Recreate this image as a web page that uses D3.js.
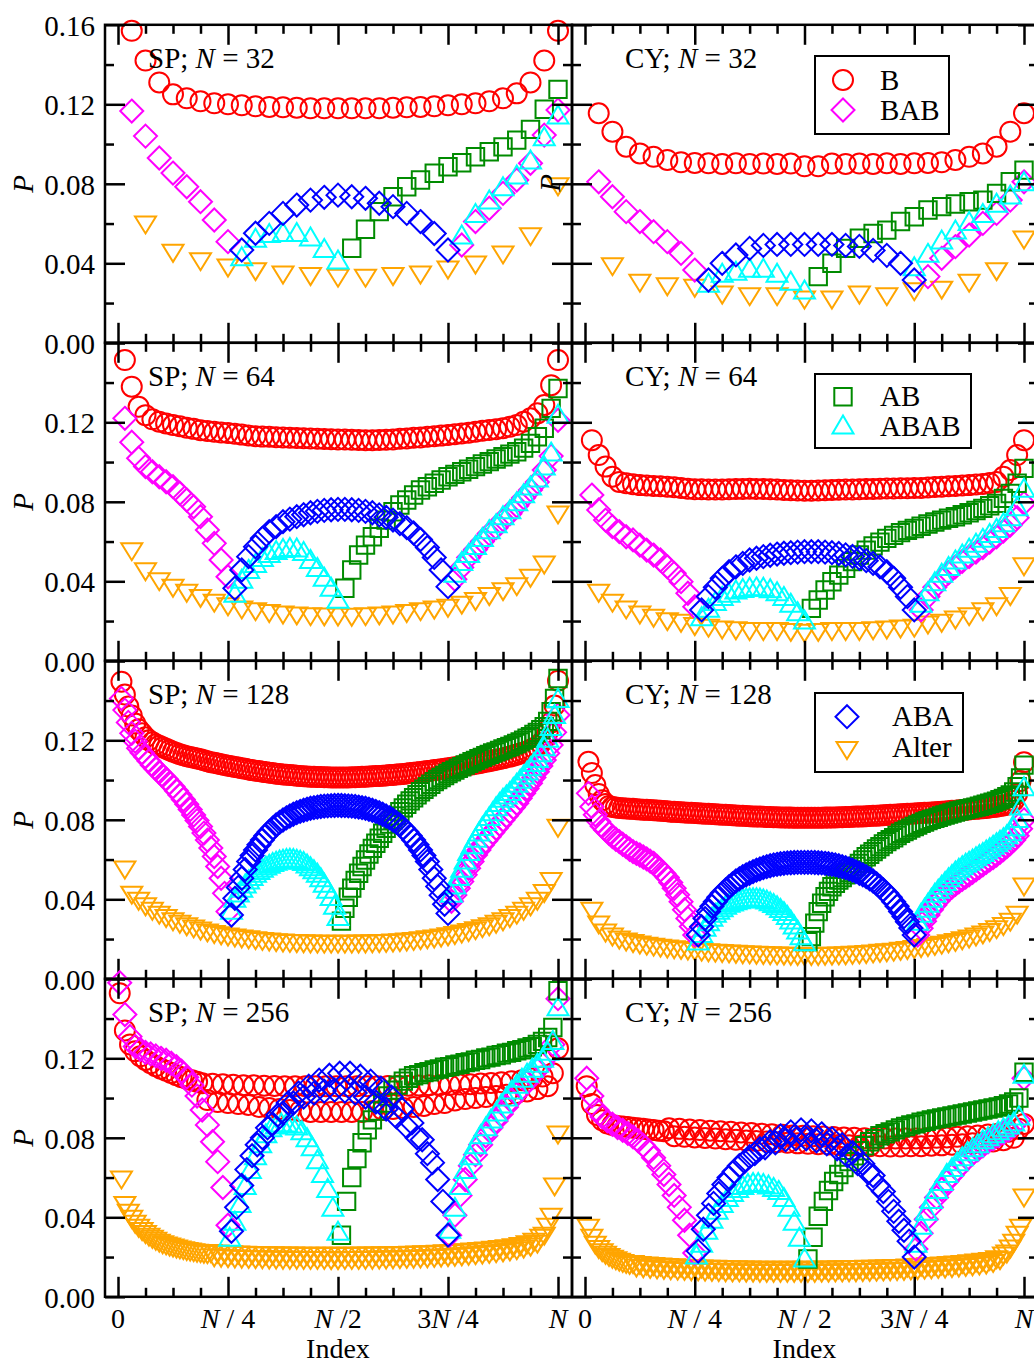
<!DOCTYPE html>
<html>
<head>
<meta charset="utf-8">
<script src="https://cdn.jsdelivr.net/npm/d3@7"></script>
<style>
  body { margin: 0; background: #fff; }
  text { font-family: "Liberation Serif", "Times New Roman", serif; font-size: 29px; fill: #000; white-space: pre; }
</style>
</head>
<body>
<div id="chart"></div>
<script>
// ---- index grids: [first index, step] for each set ----
const grid32  = {B: [1, 1], Alter: [2, 2], BABL: [1, 1], BABR: [25, 1], AB: [17, 1], ABABL: [9, 1], ABABR: [25, 1], ABA: [9, 1]};
const grid64  = {B: [1, 1], Alter: [2, 2], BABL: [1, 1], BABR: [49, 1], AB: [33, 1], ABABL: [17, 1], ABABR: [49, 1], ABA: [17, 1]};
const grid128 = {B: [1, 1], Alter: [2, 2], BABL: [1, 1], BABR: [97, 1], AB: [65, 1], ABABL: [33, 1], ABABR: [97, 1], ABA: [33, 1]};
const grid256 = {B: [1, 3], Alter: [2, 2], BABL: [1, 3], BABR: [193, 3], AB: [130, 3], ABABL: [65, 3], ABABR: [193, 3], ABA: [66, 3]};

// ---- SP, N = 32 ----
const sp32B = [.157,.142,.131,.125,.123,.1215,.1205,.12,.1195,.119,.1187,.1185,.1183,.118,.118,.118,.118,.118,.118,.1183,.1185,.1187,.119,.1195,.12,.1205,.1215,.123,.1255,.131,.142,.157];
const sp32BABL = [.1166,.104,.093,.0854,.0785,.071,.0618,.0509];
const sp32BABR = [.0492,.061,.0677,.0752,.0819,.0903,.1045,.1171];
const sp32ABA = [.0467,.0551,.0601,.0651,.0693,.0718,.0732,.0743,.0735,.0727,.0702,.0685,.0651,.061,.055,.0467];
const sp32ABABL = [.0433,.0526,.055,.0555,.0555,.0532,.0475,.0417];
const sp32ABABR = [.0542,.0651,.0718,.0785,.0844,.092,.1037,.1146];
const sp32AB = [.0476,.0571,.066,.0735,.0785,.0819,.0853,.0886,.0906,.0936,.0961,.0986,.102,.1074,.1175,.1275];
const sp32Alter = [.0593,.045,.0408,.0376,.0358,.0341,.0333,.0325,.0325,.0333,.0341,.0366,.0391,.0442,.0534,.0785];

// ---- CY, N = 32 ----
const cy32B = [.1155,.1062,.0987,.0953,.0936,.092,.0908,.0905,.0903,.09,.0903,.09,.0902,.09,.0902,.0888,.0888,.0902,.09,.0902,.09,.0903,.09,.0903,.0905,.0908,.092,.0936,.0953,.0987,.1062,.1155];
const cy32BABL = [.081,.0735,.066,.061,.0559,.0509,.045,.0366];
const cy32BABR = [.0333,.0425,.0484,.0542,.0601,.0651,.0718,.081];
const cy32ABA = [.0316,.04,.0442,.0475,.049,.0495,.0495,.0495,.0495,.0495,.049,.0485,.0465,.044,.04,.0316];
const cy32ABABL = [.03,.035,.036,.0375,.0375,.035,.031,.0266];
const cy32ABABR = [.0383,.045,.0517,.0567,.061,.0651,.0702,.0744,.081]; // starts at index 24
const cy32AB = [.0333,.04,.0475,.0526,.055,.0567,.061,.0634,.0668,.0685,.0698,.071,.0718,.0752,.081,.0869];
const cy32Alter = [.0383,.03,.0282,.0274,.024,.0232,.0232,.0215,.0215,.024,.0232,.0257,.0265,.03,.0358,.0517];

// ---- SP, N = 64 ----
const sp64B = [.1513,.1379,.1278,.1236,.1215,.1203,.1194,.1186,.118,.1173,.1167,.116,.1156,.1152,.1149,.1146,.1142,.1138,.1134,.113,.1128,.1127,.1125,.1124,.1122,.1121,.112,.1119,.1117,.1116,.1115,.1114,.1113,.1112,.1111,.111,.111,.1111,.1112,.1114,.1117,.1119,.1122,.1124,.1127,.113,.1133,.1136,.114,.1144,.1148,.1153,.1157,.1161,.1165,.117,.1178,.1186,.1203,.122,.1245,.1287,.1387,.1513];
const sp64BABL = [.122,.11,.1019,.0977,.0951,.0926,.0901,.0876,.0843,.0809,.0775,.0725,.0658,.0591,.0507,.0423];
const sp64BABR = [.041,.047,.052,.056,.06,.064,.067,.071,.074,.078,.082,.086,.09,.096,.103,.121];
const sp64ABA = [.0365,.0457,.0524,.0574,.0616,.065,.0675,.07,.0713,.0725,.0735,.0745,.0752,.0757,.076,.0762,.0762,.076,.0757,.0752,.0745,.0734,.0722,.0708,.069,.067,.0643,.061,.057,.052,.0457,.0373];
const sp64ABABL = [.034,.041,.046,.049,.052,.054,.0555,.0565,.057,.0568,.055,.051,.047,.042,.037,.031];
const sp64ABABR = [.044,.05,.054,.058,.062,.066,.069,.073,.076,.08,.084,.088,.092,.098,.105,.124];
const sp64AB = [.0365,.0457,.0532,.0582,.0624,.0667,.0708,.075,.0784,.0809,.0834,.0859,.0876,.0893,.091,.0926,.0938,.0951,.0964,.0977,.099,.1002,.1015,.1027,.104,.1052,.107,.1094,.1127,.117,.127,.137];
const sp64Alter = [.0549,.0448,.0398,.0365,.034,.0314,.029,.0272,.0256,.0247,.0238,.023,.0226,.0222,.0221,.022,.0219,.0222,.0226,.023,.0238,.0247,.0255,.0264,.028,.0298,.0323,.0348,.0373,.0415,.0482,.0734];

// ---- CY, N = 64 ----
const cy64B = [.111,.1035,.0977,.0926,.09,.0893,.0888,.0884,.0882,.088,.0878,.0876,.0873,.087,.0866,.0863,.0863,.0862,.0862,.0862,.0863,.0864,.0865,.0866,.0865,.0864,.0863,.0862,.086,.0858,.0857,.0856,.0856,.0857,.0858,.086,.0861,.0862,.0862,.0863,.0864,.0865,.0866,.0867,.0867,.0868,.0868,.0869,.087,.0872,.0874,.0876,.0878,.088,.0882,.0884,.0887,.089,.0895,.09,.0926,.096,.1035,.111];
const cy64BABL = [.0834,.0759,.0708,.0675,.065,.0624,.0608,.0582,.0557,.0532,.0507,.0473,.044,.0398,.034,.0272];
const cy64BABR = [.0256,.0323,.037,.041,.0443,.0473,.05,.0524,.0547,.057,.0597,.0624,.0653,.0683,.072,.0792];
const cy64ABA = [.0256,.0323,.037,.0415,.0448,.0473,.049,.0507,.0516,.0524,.0531,.0537,.0541,.0544,.0547,.0549,.0549,.0549,.0547,.0544,.054,.0533,.0525,.0516,.0504,.049,.0473,.0448,.0415,.037,.0323,.0256];
const cy64ABABL = [.0222,.0264,.0298,.0323,.034,.0356,.0364,.037,.0372,.037,.0362,.0348,.0323,.029,.0247,.0205];
const cy64ABABR = [.029,.0348,.0398,.044,.0475,.0507,.0537,.0566,.0591,.0616,.0641,.0666,.0695,.0725,.0775,.0868];
const cy64AB = [.0264,.0306,.0356,.0398,.0431,.0465,.0499,.0532,.0557,.0578,.0597,.0616,.0631,.0645,.0656,.0666,.0677,.0688,.0698,.0708,.0717,.0725,.0735,.0745,.0756,.0767,.078,.0792,.0817,.0842,.0893,.0968];
const cy64Alter = [.034,.029,.0256,.023,.0214,.0197,.0189,.0172,.0164,.0155,.0151,.0147,.0147,.0147,.0143,.0138,.0143,.0147,.0147,.0147,.0151,.0155,.016,.0164,.018,.0189,.0205,.0222,.0247,.0272,.0323,.0473];

// ---- SP, N = 128 ----
const sp128B = [.1495,.143,.137,.1325,.1285,.1255,.1235,.1215,.12,.119,
  .118,.1172,.1165,.1157,.115,.1143,.1136,.113,.1125,.112,
  .1116,.1112,.1108,.1105,.11,.1095,.109,.1087,.1083,.108,
  .1076,.1072,.1069,.1066,.1063,.106,.1057,.1053,.105,.1047,
  .1045,.1042,.104,.1037,.1035,.1032,.103,.1028,.1027,.1025,
  .1024,.1022,.102,.1019,.1018,.1017,.1016,.1015,.1015,.1014,
  .1014,.1013,.1013,.1013,.1013,.1013,.1013,.1014,.1014,.1015,
  .1016,.1017,.1018,.1019,.102,.1021,.1022,.1023,.1025,.1026,
  .1028,.1029,.1031,.1033,.1035,.1037,.1039,.1041,.1043,.1045,
  .1047,.105,.1052,.1054,.1057,.1059,.1062,.1064,.1067,.107,
  .1073,.1076,.1079,.1082,.1085,.1088,.1092,.1095,.1099,.1102,
  .1106,.111,.1114,.1118,.1123,.1128,.1133,.1139,.1145,.1152,
  .116,.117,.1185,.1205,.124,.129,.1375,.15];
const sp128BABL = [.141,.1352,.129,.1235,.1195,.116,.1137,.1117,.1096,.1075,
  .1057,.1039,.1022,.1005,.0986,.0967,.0946,.0925,.0902,.0878,
  .0852,.0824,.0796,.0766,.0733,.0698,.0658,.0615,.0565,.0506,.043,.0338];
const sp128BABR = [.039,.0422,.0456,.0489,.0523,.0556,.059,.0623,.0648,.0673,
  .0694,.0715,.0736,.0757,.0778,.0799,.082,.0841,.0862,.0883,
  .0908,.0933,.0958,.0984,.1013,.1042,.1071,.1101,.1135,.1176,.124,.1327];
const sp128ABA = [.0321,.0405,.046,.0506,.055,.059,.062,.0648,.0674,.0698,
  .072,.074,.0758,.0774,.0787,.0799,.081,.0819,.0828,.0836,
  .0842,.0848,.0853,.0858,.0861,.0864,.0867,.0869,.087,.0871,
  .0872,.0873,.0872,.0871,.087,.0869,.0867,.0864,.0861,.0858,
  .0853,.0848,.0842,.0836,.0828,.0819,.081,.0799,.0787,.0774,
  .0758,.074,.072,.0698,.0674,.0648,.062,.059,.055,.0506,
  .0465,.0421,.0375,.0329];
const sp128ABABL = [.0345,.0405,.0432,.0455,.0477,.0497,.0515,.0531,.0545,.0556,
  .0567,.0576,.0585,.0592,.0598,.0602,.0605,.0606,.0605,.0602,
  .0597,.059,.0578,.0564,.0549,.0531,.0508,.0481,.045,.0414,.037,.0313];
const sp128ABABR = [.043,.0472,.0515,.0556,.0598,.064,.0675,.0707,.0738,.0766,
  .0791,.0816,.0841,.0866,.0887,.0908,.0925,.0942,.0963,.0984,
  .1004,.1025,.1046,.1067,.1088,.1109,.1137,.1168,.121,.1269,.133,.141];
const sp128AB = [.029,.0355,.041,.0456,.0495,.0531,.0565,.0598,.0628,.0656,
  .0682,.0707,.0732,.0757,.0778,.0799,.082,.0841,.086,.0878,
  .0895,.0911,.0926,.0941,.0954,.0966,.0979,.0992,.1003,.1013,
  .1023,.1033,.1042,.105,.1059,.1067,.1076,.1084,.1092,.1099,
  .1107,.1114,.1122,.1129,.1136,.1142,.1149,.1156,.1163,.1169,
  .1177,.1184,.1192,.1201,.121,.1218,.1229,.124,.1253,.1268,
  .1295,.1344,.141,.1511];
const sp128Alter = [.0547,.0421,.039,.0362,.034,.032,.0303,.0287,.0274,.0262,.0251,.024,.0231,.0223,.0216,.021,.0205,.02,.0196,.0192,.0188,.0185,.0182,.018,.0178,.0177,.0176,.0175,.0174,.0174,.0174,.0174,.0174,.0174,.0175,.0175,.0176,.0177,.0178,.018,.0182,.0185,.0188,.0192,.0196,.02,.0205,.0211,.0218,.0225,.0233,.0242,.0252,.0262,.0274,.0287,.0303,.032,.034,.0362,.039,.0429,.049,.0757];

// ---- CY, N = 128 ----
const cy128B = [.1092,.1035,.0975,.093,.0898,.088,.087,.0865,.0862,.086,
  .0858,.0857,.0856,.0855,.0853,.0852,.0851,.085,.0849,.0848,
  .0847,.0846,.0844,.0843,.0841,.084,.0839,.0838,.0837,.0836,
  .0835,.0834,.0833,.0832,.0831,.083,.0829,.0828,.0827,.0826,
  .0825,.0824,.0823,.0822,.0821,.082,.0819,.0818,.0817,.0817,
  .0816,.0815,.0814,.0814,.0813,.0813,.0812,.0812,.0811,.0811,
  .081,.081,.081,.081,.081,.081,.081,.081,.081,.0811,
  .0811,.0812,.0812,.0813,.0813,.0814,.0814,.0815,.0816,.0817,
  .0817,.0818,.0819,.082,.0821,.0822,.0823,.0824,.0825,.0826,
  .0827,.0828,.0829,.083,.0831,.0832,.0833,.0834,.0835,.0836,
  .0837,.0838,.0839,.084,.0842,.0843,.0845,.0846,.0848,.0849,
  .0851,.0852,.0854,.0855,.0857,.0858,.086,.0862,.0864,.0866,
  .0869,.0872,.0876,.088,.0895,.093,.0995,.109];
const cy128BABL = [.0933,.0866,.0825,.0791,.0768,.0749,.0732,.0715,.0702,.069,
  .0677,.0665,.0652,.064,.0631,.0623,.0613,.0603,.0592,.0581,
  .0565,.0548,.053,.051,.0484,.0455,.0423,.0388,.0348,.0304,.0263,.022];
const cy128BABR = [.022,.0254,.029,.0321,.0347,.0371,.0393,.0413,.043,.0447,
  .0461,.0475,.0488,.0501,.0512,.0523,.0536,.0548,.0561,.0573,
  .0586,.0598,.061,.0623,.0636,.065,.0665,.068,.0698,.072,.0755,.08];
const cy128ABA = [.022,.0262,.0303,.0338,.0365,.0388,.041,.043,.0447,.0463,
  .0478,.0492,.0503,.0514,.0523,.0531,.0539,.0547,.0553,.0559,
  .0564,.0569,.0573,.0576,.0579,.0581,.0583,.0584,.0585,.0586,
  .0586,.0586,.0586,.0586,.0585,.0584,.0583,.0581,.0579,.0576,
  .0573,.0569,.0564,.0559,.0553,.0547,.0539,.0531,.0523,.0514,
  .0503,.0492,.0478,.0463,.0447,.043,.041,.0388,.0365,.0338,
  .0313,.0287,.0255,.022];
const cy128ABABL = [.019,.0228,.026,.0287,.031,.033,.0345,.0358,.037,.038,
  .0387,.0393,.0398,.0403,.0406,.0408,.0408,.0408,.0406,.0402,
  .0396,.0388,.0379,.0368,.0354,.0338,.0318,.0296,.0271,.0245,.0217,.0187];
const cy128ABABR = [.029,.033,.0355,.038,.0405,.043,.0451,.0471,.049,.0508,
  .0525,.0542,.0556,.0569,.0581,.0592,.0603,.0614,.0625,.0636,
  .0648,.066,.0672,.0685,.0697,.071,.0725,.074,.0765,.0807,.087,.0966];
const cy128AB = [.0187,.0212,.028,.0338,.038,.0413,.044,.0463,.0481,.0497,
  .051,.0523,.0535,.0548,.0565,.0581,.0598,.0614,.0627,.064,
  .0653,.0665,.0678,.069,.07,.071,.0721,.0732,.0741,.0749,
  .0758,.0766,.0774,.0782,.0789,.0796,.0802,.0807,.0813,.0819,
  .0824,.0829,.0834,.0839,.0844,.0848,.0852,.0856,.086,.0864,
  .0868,.0873,.0878,.0883,.0888,.0894,.0901,.0908,.0916,.0925,
  .094,.0966,.101,.1075];
const cy128Alter = [.034,.0271,.023,.021,.0195,.0185,.0177,.017,.0164,.0159,.0154,.015,.0146,.0143,.014,.0137,.0134,.0131,.0129,.0127,.0125,.0123,.0121,.012,.0118,.0117,.0116,.0115,.0114,.0113,.0112,.0112,.0112,.0112,.0113,.0114,.0115,.0116,.0118,.012,.0122,.0125,.0128,.0131,.0134,.0138,.0142,.0147,.0152,.0157,.0163,.0169,.0176,.0183,.0191,.02,.021,.0221,.0233,.0247,.0263,.0285,.032,.0462];

// ---- SP, N = 256 (sampled) ----
const sp256B = [.1527,.134,.127,.1235,.121,.1192,.1175,.116,.1148,.1137,.1126,.1115,.1105,.1097,.109,.1082,
  .1075,.099,.1072,.098,.107,.0975,.1067,.097,.1065,.0965,
  .1064,.0955,.1062,.095,.1061,.0945,.106,.094,.106,.0935,
  .106,.093,.106,.093,.106,.093,.106,.093,.106,.093,
  .106,.093,.106,.0935,.106,.094,.1061,.0945,.1062,.095,
  .1062,.0955,.1063,.096,.1065,.097,.1065,.0975,.1066,.0988,
  .1068,.0995,.107,.1,.1073,.1005,.1076,.101,.108,.1017,
  .1085,.1025,.109,.1033,.1098,.1045,.1108,.106,.1125,.125];
const sp256BABL = [.158,.142,.131,.126,.1245,.123,.1222,.1212,.12,.119,.1175,.1158,.1135,.1105,.1065,.101,.094,.0865,.078,.068,.055,.036];
const sp256BABR = [.031,.041,.051,.059,.066,.0715,.0765,.081,.085,.0885,.092,.0955,.099,.102,.105,.108,.111,.114,.117,.121,.127,.15];
const sp256ABA = [.033,.045,.056,.064,.071,.0765,.08,.085,.087,.0915,.0925,.0975,.0975,.1025,.1005,.106,.1025,.109,.1035,.1115,.104,.1125,.1035,.1125,.1025,.111,.1005,.1085,.098,.105,.0945,.1005,.0905,.0945,.0855,.0875,.08,.079,.072,.0675,.059,.048,.031];
const sp256ABABL = [.03,.038,.047,.056,.064,.071,.077,.082,.085,.0865,.0875,.0875,.087,.086,.0835,.08,.0755,.069,.062,.0545,.045,.033];
const sp256ABABR = [.034,.045,.056,.064,.071,.0765,.0815,.0855,.0895,.093,.097,.1005,.104,.107,.11,.1125,.115,.1175,.12,.1235,.129,.146];
const sp256AB = [.031,.048,.06,.0695,.0775,.084,.089,.0935,.0975,.101,.104,.1065,.1085,.11,.1112,.1118,.1128,.1132,.1142,.1146,.1155,.1158,.1166,.117,.1178,.1182,.119,.1194,.1202,.1206,.1214,.1218,.1226,.123,.1238,.1243,.1252,.1258,.127,.1285,.1305,.1355,.154];
const sp256Alter = [.0588,.046,.042,.039,.0365,.0345,.0328,.0313,.03,.0289,.0279,.027,.0262,.0256,.025,.0245,.024,.0236,.0232,.0228,.0225,.0222,.0219,.0217,.0214,.0212,
  .0218,.0196,.0215,.0194,.0213,.0192,.0212,.019,.021,.0189,
  .0209,.0188,.0208,.0187,.0207,.0186,.0206,.0185,.0206,.0185,
  .0205,.0184,.0205,.0184,.0205,.0184,.0204,.0183,.0204,.0183,
  .0204,.0183,.0204,.0183,.0204,.0182,.0204,.0182,.0204,.0183,
  .0204,.0183,.0204,.0183,.0205,.0184,.0205,.0184,.0205,.0185,
  .0206,.0185,.0206,.0186,.0207,.0187,.0208,.0188,.0209,.0189,
  .021,.019,.0211,.0191,.0212,.0193,.0214,.0195,.0216,.0197,
  .0218,.0199,.022,.0201,.0222,.0204,.0225,.0207,.0228,.021,
  .0231,.0213,.0234,.0217,.0238,.0221,.0242,.0226,.0247,
  .0232,.0253,.024,.0262,.025,.0275,.0265,.0295,.0305,.035,.04,.0553,.0814];

// ---- CY, N = 256 (sampled) ----
const cy256B = [.106,.097,.0915,.0888,.0872,.0865,.086,.0857,.0854,.0851,.0848,.0845,.0842,.0839,.0836,.0833,
  .0848,.0808,.0845,.0805,.0842,.0802,.0839,.0799,.0836,.0796,
  .0833,.0793,.083,.079,.0827,.0787,.0824,.0784,.0821,.0781,
  .0818,.0778,.0815,.0775,.0812,.0772,.081,.077,.0808,.0768,
  .0806,.0766,.0804,.0764,.0802,.0762,.08,.076,.0798,.0758,
  .0797,.0757,.0796,.0756,.0796,.0756,.0796,.0757,.0797,.0758,
  .0798,.076,.08,.0762,.0802,.0765,.0805,.0768,.0808,.0772,
  .0812,.0776,.0816,.0781,.0821,.0788,.083,.08,.0845,.087];
const cy256BABL = [.11,.101,.094,.0905,.0885,.0868,.0852,.0838,.0822,.0805,.0785,.0762,.0735,.07,.066,.0615,.0565,.051,.045,.0385,.031,.022];
const cy256BABR = [.024,.032,.039,.045,.05,.054,.058,.061,.064,.067,.0695,.072,.074,.076,.078,.0795,.081,.0825,.084,.086,.089,.11];
const cy256ABA = [.023,.034,.041,.047,.052,.0565,.06,.063,.066,.068,.0705,.072,.0745,.075,.078,.0775,.081,.079,.083,.0795,.084,.0795,.0835,.0785,.082,.077,.0795,.0745,.0765,.071,.0725,.067,.067,.0625,.061,.056,.053,.048,.043,.038,.0335,.028,.02];
const cy256ABABL = [.021,.027,.0335,.039,.0435,.047,.05,.0525,.0545,.056,.057,.0575,.0575,.057,.0562,.055,.0535,.05,.045,.038,.03,.0195];
const cy256ABABR = [.027,.036,.043,.049,.054,.058,.062,.065,.068,.0705,.073,.075,.077,.079,.0805,.082,.0835,.085,.0865,.088,.091,.112];
const cy256AB = [.019,.03,.0405,.048,.0535,.058,.0615,.065,.068,.071,.0735,.076,.078,.0795,.081,.082,.083,.084,.085,.0857,.0865,.087,.0878,.0883,.089,.0895,.09,.0905,.091,.0915,.092,.0925,.093,.0935,.094,.0945,.095,.0955,.0962,.097,.098,.1,.113];
const cy256Alter = [.0345,.0294,.026,.0238,.0222,.0209,.0198,.0189,.0181,.0174,.0168,.0163,.0158,
  .0162,.0145,.0158,.0141,.0155,.0138,.0152,.0135,.015,.0133,
  .0148,.0131,.0146,.0129,.0144,.0128,.0143,.0126,.0141,.0125,
  .014,.0124,.0139,.0123,.0138,.0122,.0137,.0121,.0136,.012,
  .0136,.012,.0135,.0119,.0135,.0119,.0134,.0118,.0134,.0118,
  .0134,.0118,.0134,.0118,.0134,.0118,.0134,.0118,.0134,.0118,
  .0134,.0118,.0134,.0118,.0134,.0119,.0135,.0119,.0135,.012,
  .0136,.012,.0136,.0121,.0137,.0121,.0137,.0122,.0138,.0123,
  .0139,.0124,.014,.0125,.0141,.0126,.0142,.0127,.0143,.0128,
  .0145,.013,.0147,.0132,.0149,.0134,.0151,.0136,.0153,.0138,
  .0155,.014,.0157,.0142,.016,.0145,.0163,.0148,.0166,.0151,.017,.0155,.0174,
  .016,.0178,.0168,.0187,.0182,.0205,.0215,.024,.027,.031,.0345,.0497];

// ---- ticks and labels ----
const yMajor = [0, 0.04, 0.08, 0.12, 0.16];
const yMinor = [0.02, 0.06, 0.10, 0.14];
const xTickLabels = [["0", "*N* / 4", "*N* /2", "3*N* /4", "*N*"],
                     ["0", "*N* / 4", "*N* / 2", "3*N* / 4", "*N*"]];
const sizes = [32, 64, 128, 256];
const tags = ["SP", "CY"];

// sets of one panel, in drawing order
function sets(grid, B, Alter, BABL, BABR, AB, ABABL, ABABR, ABA, abRStart) {
  return [
    ["B", grid.B, B], ["Alter", grid.Alter, Alter],
    ["BAB", grid.BABL, BABL], ["BAB", grid.BABR, BABR],
    ["AB", grid.AB, AB],
    ["ABAB", grid.ABABL, ABABL], ["ABAB", abRStart || grid.ABABR, ABABR],
    ["ABA", grid.ABA, ABA]
  ];
}
const panels = [
  [sets(grid32, sp32B, sp32Alter, sp32BABL, sp32BABR, sp32AB, sp32ABABL, sp32ABABR, sp32ABA),
   sets(grid32, cy32B, cy32Alter, cy32BABL, cy32BABR, cy32AB, cy32ABABL, cy32ABABR, cy32ABA, [24, 1])],
  [sets(grid64, sp64B, sp64Alter, sp64BABL, sp64BABR, sp64AB, sp64ABABL, sp64ABABR, sp64ABA),
   sets(grid64, cy64B, cy64Alter, cy64BABL, cy64BABR, cy64AB, cy64ABABL, cy64ABABR, cy64ABA)],
  [sets(grid128, sp128B, sp128Alter, sp128BABL, sp128BABR, sp128AB, sp128ABABL, sp128ABABR, sp128ABA),
   sets(grid128, cy128B, cy128Alter, cy128BABL, cy128BABR, cy128AB, cy128ABABL, cy128ABABR, cy128ABA)],
  [sets(grid256, sp256B, sp256Alter, sp256BABL, sp256BABR, sp256AB, sp256ABABL, sp256ABABR, sp256ABA),
   sets(grid256, cy256B, cy256Alter, cy256BABL, cy256BABR, cy256AB, cy256ABABL, cy256ABABR, cy256ABA)]
];

const style = {
  B:     {shape: "circle",  color: "#ff0000"},
  BAB:   {shape: "diamond", color: "#ff00ff"},
  AB:    {shape: "square",  color: "#008b00"},
  ABAB:  {shape: "up",      color: "#00ffff"},
  ABA:   {shape: "diamond", color: "#0000ff"},
  Alter: {shape: "down",    color: "#ffa500"}
};
const shapes = {
  circle:  "M10,0A10,10 0 1,1 -10,0A10,10 0 1,1 10,0Z",
  diamond: "M0,-11.5L11.5,0L0,11.5L-11.5,0Z",
  square:  "M-8.7,-8.7H8.7V8.7H-8.7Z",
  up:      "M0,-9.5L10.5,8.5L-10.5,8.5Z",
  down:    "M0,8.5L10.5,-8.5L-10.5,-8.5Z"
};

const legends = [
  {row: 0, box: [815, 56, 134, 78],  mx: 843, tx: 880, items: ["B", "BAB"],     my: [80, 110],     ty: [90, 120]},
  {row: 1, box: [815, 374, 156, 74], mx: 843, tx: 880, items: ["AB", "ABAB"],   my: [396.7, 425],  ty: [406, 436]},
  {row: 2, box: [815, 693, 148, 79], mx: 847, tx: 892, items: ["ABA", "Alter"], my: [716.7, 750.5], ty: [726, 757]}
];

// ---- layout ----
const rowTop = 24.8, rowH = 318;
const cols = [
  {frameL: 105, frameR: 572, x0: 118, x1: 558, tagX: 148},
  {frameL: 572, frameR: 1038, x0: 585, x1: 1024, tagX: 625}
];

const svg = d3.select("#chart").append("svg")
  .attr("width", 1034)
  .attr("height", 1364)
  .style("background", "#fff");

function richText(sel, str) {
  str.split("*").forEach((part, i) => {
    if (part) sel.append("tspan").attr("font-style", i % 2 ? "italic" : null).text(part);
  });
}

function tickGroup(g, axis, tx, ty, values, size) {
  g.append("g")
    .attr("transform", "translate(" + tx + "," + ty + ")")
    .call(axis.tickValues(values).tickSize(-size).tickFormat(""))
    .call(a => a.select(".domain").remove())
    .selectAll("line")
    .attr("stroke", "#000")
    .attr("stroke-width", 2.5);
}

panels.forEach((rowSets, r) => {
  rowSets.forEach((panelSets, c) => {
    const col = cols[c];
    const N = sizes[r];
    const top = rowTop + r * rowH, bot = top + rowH;
    const x = d3.scaleLinear().domain([0, N]).range([col.x0, col.x1]);
    const y = d3.scaleLinear().domain([0, 0.16]).range([bot, top]);
    const g = svg.append("g").attr("class", "panel");

    // markers
    panelSets.forEach(([name, [start, step], vals]) => {
      const st = style[name];
      g.append("g")
        .attr("class", "set " + name)
        .selectAll("path")
        .data(vals)
        .enter()
        .append("path")
        .attr("d", shapes[st.shape])
        .attr("transform", (d, i) => "translate(" + x(start + i * step) + "," + y(d) + ")")
        .attr("fill", "none")
        .attr("stroke", st.color)
        .attr("stroke-width", 2);
    });

    // frame
    g.append("rect")
      .attr("x", col.frameL).attr("y", top)
      .attr("width", col.frameR - col.frameL).attr("height", rowH)
      .attr("fill", "none").attr("stroke", "#000").attr("stroke-width", 2.5);

    // ticks on all four sides, pointing inward
    const xMajor = [0, N / 4, N / 2, 3 * N / 4, N];
    const xMinor = d3.range(1, 16).filter(k => k % 4).map(k => k * N / 16);
    tickGroup(g, d3.axisTop(x), 0, top, xMajor, 20);
    tickGroup(g, d3.axisTop(x), 0, top, xMinor, 9);
    tickGroup(g, d3.axisBottom(x), 0, bot, xMajor, 20);
    tickGroup(g, d3.axisBottom(x), 0, bot, xMinor, 9);
    tickGroup(g, d3.axisLeft(y), col.frameL, 0, yMajor, 20);
    tickGroup(g, d3.axisLeft(y), col.frameL, 0, yMinor, 9);
    tickGroup(g, d3.axisRight(y), col.frameR, 0, yMajor, 20);
    tickGroup(g, d3.axisRight(y), col.frameR, 0, yMinor, 9);

    // panel tag
    richText(g.append("text").attr("x", col.tagX).attr("y", top + 43.5),
             tags[c] + "; *N* = " + N);

    // y tick labels + P on the left column
    if (c === 0) {
      const labels = r === 0 ? yMajor : yMajor.slice(0, 4);
      const ax = g.append("g")
        .attr("transform", "translate(" + col.frameL + ",0)")
        .call(d3.axisLeft(y).tickValues(labels).tickSize(0).tickPadding(10).tickFormat(d3.format(".2f")));
      ax.select(".domain").remove();
      ax.attr("font-family", null).attr("font-size", null);
      ax.selectAll("text").attr("dy", "0.36em").attr("fill", "#000");

      g.append("text")
        .attr("transform", "translate(33," + (top + rowH / 2) + ") rotate(-90)")
        .attr("text-anchor", "middle")
        .attr("font-style", "italic")
        .text("P");
    }
    if (c === 1 && r === 0) {
      g.append("text")
        .attr("transform", "translate(560," + (top + rowH / 2 - 1) + ") rotate(-90)")
        .attr("text-anchor", "middle")
        .attr("font-style", "italic")
        .text("P");
    }

    // x tick labels on bottom row
    if (r === 3) {
      xMajor.forEach((v, i) => {
        richText(g.append("text").attr("x", x(v)).attr("y", bot + 31)
                   .attr("text-anchor", "middle").style("font-size", "28px"),
                 xTickLabels[c][i]);
      });
      g.append("text")
        .attr("x", x(N / 2)).attr("y", bot + 61)
        .attr("text-anchor", "middle")
        .style("font-size", "28px")
        .text("Index");
    }
  });
});

// legends
legends.forEach(L => {
  const g = svg.append("g").attr("class", "legend");
  g.append("rect")
    .attr("x", L.box[0]).attr("y", L.box[1])
    .attr("width", L.box[2]).attr("height", L.box[3])
    .attr("fill", "#fff").attr("stroke", "#000").attr("stroke-width", 2);
  L.items.forEach((name, i) => {
    const st = style[name];
    g.append("path")
      .attr("d", shapes[st.shape])
      .attr("transform", "translate(" + L.mx + "," + L.my[i] + ")")
      .attr("fill", "none").attr("stroke", st.color).attr("stroke-width", 2);
    g.append("text").attr("x", L.tx).attr("y", L.ty[i]).text(name);
  });
});
</script>
</body>
</html>
